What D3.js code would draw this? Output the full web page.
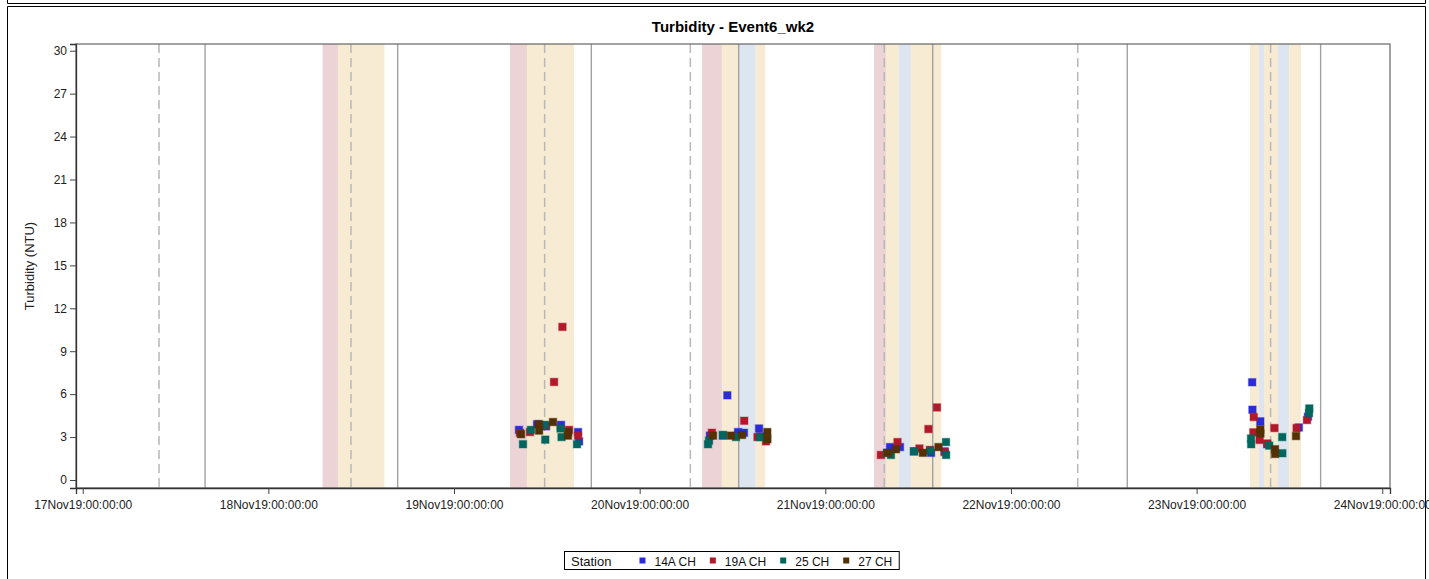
<!DOCTYPE html>
<html>
<head>
<meta charset="utf-8">
<script src="https://cdn.jsdelivr.net/npm/d3@7"></script>
<style>
  html, body { margin: 0; padding: 0; background: #fff; }
  svg { display: block; font-family: "Liberation Sans", Arial, sans-serif; }
</style>
</head>
<body>
<svg id="chart" width="1429" height="579"></svg>
<script>
// ---- data -------------------------------------------------------------
const stations = ["14A CH", "19A CH", "25 CH", "27 CH"];
const stationColors = ["#2b2bd8", "#b2182b", "#01665e", "#543005"];

// turbidity readings per station: [timestamp, NTU]
const st14A = [
  ["2019-11-19 08:24", 3.5], ["2019-11-19 10:44", 3.9], ["2019-11-19 11:53", 3.75],
  ["2019-11-19 13:50", 3.85], ["2019-11-19 16:02", 3.35], ["2019-11-19 16:10", 2.7],
  ["2019-11-20 09:05", 3.1], ["2019-11-20 10:46", 3.1], ["2019-11-20 11:20", 5.92],
  ["2019-11-20 12:43", 3.35], ["2019-11-20 13:29", 3.3], ["2019-11-20 15:26", 3.6],
  ["2019-11-20 15:34", 3.05],
  ["2019-11-21 08:22", 2.3], ["2019-11-21 09:39", 2.3], ["2019-11-21 11:28", 2.0],
  ["2019-11-21 13:40", 1.9], ["2019-11-21 15:24", 2.0],
  ["2019-11-23 07:11", 6.83], ["2019-11-23 07:13", 4.91], ["2019-11-23 08:14", 4.1],
  ["2019-11-23 09:08", 2.5], ["2019-11-23 13:13", 3.67], ["2019-11-23 14:24", 4.42]
];
const st19A = [
  ["2019-11-19 08:32", 3.3], ["2019-11-19 09:49", 3.35], ["2019-11-19 11:53", 3.8],
  ["2019-11-19 12:56", 6.85], ["2019-11-19 14:01", 10.7], ["2019-11-19 14:52", 3.5],
  ["2019-11-19 16:02", 3.1],
  ["2019-11-20 09:20", 3.3], ["2019-11-20 13:31", 4.14], ["2019-11-20 15:14", 3.0],
  ["2019-11-20 16:20", 2.7],
  ["2019-11-21 07:11", 1.75], ["2019-11-21 09:20", 2.65], ["2019-11-21 12:10", 2.2],
  ["2019-11-21 13:20", 3.56], ["2019-11-21 13:32", 2.1], ["2019-11-21 14:26", 5.07],
  ["2019-11-21 15:28", 1.95],
  ["2019-11-23 07:23", 4.4], ["2019-11-23 07:20", 3.33], ["2019-11-23 08:09", 2.8],
  ["2019-11-23 09:08", 2.55], ["2019-11-23 10:04", 3.63], ["2019-11-23 12:56", 3.63],
  ["2019-11-23 14:16", 4.19]
];
const st25 = [
  ["2019-11-19 08:55", 2.5], ["2019-11-19 09:57", 3.5], ["2019-11-19 11:46", 3.85],
  ["2019-11-19 11:48", 2.82], ["2019-11-19 13:46", 3.6], ["2019-11-19 13:54", 3.0],
  ["2019-11-19 15:54", 2.5],
  ["2019-11-20 08:50", 2.5], ["2019-11-20 08:58", 2.75], ["2019-11-20 10:46", 3.15],
  ["2019-11-20 12:27", 3.0], ["2019-11-20 15:34", 3.0],
  ["2019-11-21 07:58", 1.9], ["2019-11-21 08:29", 1.75], ["2019-11-21 11:28", 2.0],
  ["2019-11-21 13:34", 2.05], ["2019-11-21 15:36", 2.65], ["2019-11-21 15:37", 1.75],
  ["2019-11-23 07:02", 2.9], ["2019-11-23 07:03", 2.5], ["2019-11-23 09:23", 2.4],
  ["2019-11-23 11:04", 3.0], ["2019-11-23 11:05", 1.87], ["2019-11-23 14:32", 4.68],
  ["2019-11-23 14:34", 5.0]
];
const st27 = [
  ["2019-11-19 08:40", 3.2], ["2019-11-19 10:59", 3.9], ["2019-11-19 11:00", 3.45],
  ["2019-11-19 12:48", 4.05], ["2019-11-19 14:44", 3.1], ["2019-11-19 14:46", 3.35],
  ["2019-11-20 09:29", 3.1], ["2019-11-20 11:48", 3.1], ["2019-11-20 13:14", 3.15],
  ["2019-11-20 16:30", 3.35], ["2019-11-20 16:31", 2.85],
  ["2019-11-21 08:04", 1.9], ["2019-11-21 09:08", 2.15], ["2019-11-21 12:37", 1.9],
  ["2019-11-21 14:38", 2.3],
  ["2019-11-23 08:14", 3.55], ["2019-11-23 08:15", 3.25], ["2019-11-23 10:08", 2.15],
  ["2019-11-23 10:09", 1.82], ["2019-11-23 12:51", 3.07]
];
const stationData = [st14A, st19A, st25, st27];

// shaded periods: [start, end, kind]
const periods = [
  ["2019-11-18 07:00", "2019-11-18 09:00", "pink"],
  ["2019-11-18 09:00", "2019-11-18 15:00", "sand"],
  ["2019-11-19 07:14", "2019-11-19 09:26", "pink"],
  ["2019-11-19 09:26", "2019-11-19 15:31", "sand"],
  ["2019-11-20 08:04", "2019-11-20 10:38", "pink"],
  ["2019-11-20 10:38", "2019-11-20 12:50", "sand"],
  ["2019-11-20 12:50", "2019-11-20 15:00", "blue"],
  ["2019-11-20 15:00", "2019-11-20 16:14", "sand"],
  ["2019-11-21 06:17", "2019-11-21 07:50", "pink"],
  ["2019-11-21 07:50", "2019-11-21 09:31", "sand"],
  ["2019-11-21 09:31", "2019-11-21 11:04", "blue"],
  ["2019-11-21 11:04", "2019-11-21 14:59", "sand"],
  ["2019-11-23 06:54", "2019-11-23 08:04", "sand"],
  ["2019-11-23 08:04", "2019-11-23 08:43", "blue"],
  ["2019-11-23 08:43", "2019-11-23 10:31", "sand"],
  ["2019-11-23 10:31", "2019-11-23 11:59", "blue"],
  ["2019-11-23 11:59", "2019-11-23 13:29", "sand"]
];
const periodColors = { pink: "#ecd4d6", sand: "#f7ebd4", blue: "#dde6f0" };

// reference times: solid and dashed vertical lines
const solidTimes = [
  "2019-11-17 15:49", "2019-11-18 16:43", "2019-11-19 17:45", "2019-11-20 12:48",
  "2019-11-21 13:53", "2019-11-22 15:02", "2019-11-23 16:02"
];
const dashedTimes = [
  "2019-11-17 09:52", "2019-11-18 10:41", "2019-11-19 11:43", "2019-11-20 06:33",
  "2019-11-21 07:37", "2019-11-22 08:38", "2019-11-23 09:34"
];

const xTicks = ["2019-11-17 00:00", "2019-11-18 00:00", "2019-11-19 00:00", "2019-11-20 00:00",
                "2019-11-21 00:00", "2019-11-22 00:00", "2019-11-23 00:00", "2019-11-24 00:00"];
const yTicks = [0, 3, 6, 9, 12, 15, 18, 21, 24, 27, 30];
const xDomain = ["2019-11-16 23:08", "2019-11-24 01:00"];
const yDomain = [-0.56, 30.47];

// ---- drawing ----------------------------------------------------------
const parse = d3.utcParse("%Y-%m-%d %H:%M");
const fmt = d3.utcFormat("%d%b%y:%H:%M:%S");
const svg = d3.select("#chart");

const plot = { left: 76, right: 1390, top: 44, bottom: 488 };
const x = d3.scaleUtc().domain(xDomain.map(parse)).range([plot.left, plot.right]);
const y = d3.scaleLinear().domain(yDomain).range([plot.bottom, plot.top]);

// outer frames
const frame = svg.append("g").attr("fill", "none").attr("stroke", "#000").attr("stroke-width", 1);
frame.append("path").attr("d", "M7.5,0 V3.5 H1425.5 V0");
frame.append("path").attr("d", "M7.5,579 V6.5 H1425.5 V579");

// title
svg.append("text")
  .attr("x", (plot.left + plot.right) / 2).attr("y", 32)
  .attr("text-anchor", "middle").attr("font-weight", "bold").attr("font-size", 15)
  .text("Turbidity - Event6_wk2");

svg.append("defs").append("clipPath").attr("id", "plotClip")
  .append("rect").attr("x", plot.left).attr("y", plot.top)
  .attr("width", plot.right - plot.left).attr("height", plot.bottom - plot.top);

const inner = svg.append("g").attr("clip-path", "url(#plotClip)");

// shaded periods
inner.append("g").selectAll("rect").data(periods).join("rect")
  .attr("x", d => x(parse(d[0])))
  .attr("width", d => x(parse(d[1])) - x(parse(d[0])))
  .attr("y", plot.top).attr("height", plot.bottom - plot.top)
  .attr("fill", d => periodColors[d[2]]);

// reference lines
inner.append("g").selectAll("line").data(solidTimes).join("line")
  .attr("x1", d => x(parse(d))).attr("x2", d => x(parse(d)))
  .attr("y1", plot.top).attr("y2", plot.bottom)
  .attr("stroke", "#a2a2a2").attr("stroke-width", 1.4);
inner.append("g").selectAll("line").data(dashedTimes).join("line")
  .attr("x1", d => x(parse(d))).attr("x2", d => x(parse(d)))
  .attr("y1", plot.top).attr("y2", plot.bottom)
  .attr("stroke", "#b8b8b8").attr("stroke-width", 1.5)
  .attr("stroke-dasharray", "9,5");

// markers
const ms = 7.5;
stationData.forEach((series, i) => {
  inner.append("g").selectAll("rect").data(series).join("rect")
    .attr("x", d => x(parse(d[0])) - ms / 2)
    .attr("y", d => y(d[1]) - ms / 2)
    .attr("width", ms).attr("height", ms)
    .attr("fill", stationColors[i])
    .attr("stroke", stationColors[i]).attr("stroke-opacity", 0.35).attr("stroke-width", 1.2);
});

// plot frame
svg.append("rect")
  .attr("x", plot.left).attr("y", plot.top)
  .attr("width", plot.right - plot.left).attr("height", plot.bottom - plot.top)
  .attr("fill", "none").attr("stroke", "#666").attr("stroke-width", 1.2);

// axes
const xAxis = svg.append("g").attr("transform", `translate(0,${plot.bottom})`)
  .call(d3.axisBottom(x).tickValues(xTicks.map(parse)).tickFormat(fmt).tickSizeOuter(0).tickSize(6).tickPadding(6));
const yAxis = svg.append("g").attr("transform", `translate(${plot.left},0)`)
  .call(d3.axisLeft(y).tickValues(yTicks).tickSizeOuter(0).tickSize(6).tickPadding(3));
[xAxis, yAxis].forEach(a => {
  a.select(".domain").attr("stroke", "#333").attr("stroke-width", 1.3);
  a.selectAll(".tick line").attr("stroke", "#444");
  a.selectAll(".tick text").attr("fill", "#222").attr("font-size", 12)
    .attr("font-family", "'Liberation Sans', Arial, sans-serif");
});

// y-axis title
svg.append("text")
  .attr("transform", `translate(34,${(plot.top + plot.bottom) / 2}) rotate(-90)`)
  .attr("text-anchor", "middle").attr("font-size", 13).attr("fill", "#222")
  .text("Turbidity (NTU)");

// legend
const lg = svg.append("g");
const lgTop = 551.5, lgH = 18, lgBase = 565.5;
const lgBox = lg.append("rect").attr("y", lgTop).attr("height", lgH)
  .attr("fill", "#fff").attr("stroke", "#000").attr("stroke-width", 1);
const stLabel = lg.append("text").attr("x", 571).attr("y", lgBase)
  .attr("font-size", 13).attr("fill", "#111").text("Station");
let cx = 571 + stLabel.node().getComputedTextLength() + 31;
stations.forEach((s, i) => {
  lg.append("rect").attr("x", cx - 3).attr("y", lgTop + lgH / 2 - 3)
    .attr("width", 6).attr("height", 6).attr("fill", stationColors[i]);
  const t = lg.append("text").attr("x", cx + 12).attr("y", lgBase)
    .attr("font-size", 12).attr("fill", "#111").text(s);
  const w = t.node().getComputedTextLength();
  cx = cx + 12 + w + 17;
});
lgBox.attr("x", 564.5).attr("width", cx - 17 + 7 - 564.5);
</script>
</body>
</html>
